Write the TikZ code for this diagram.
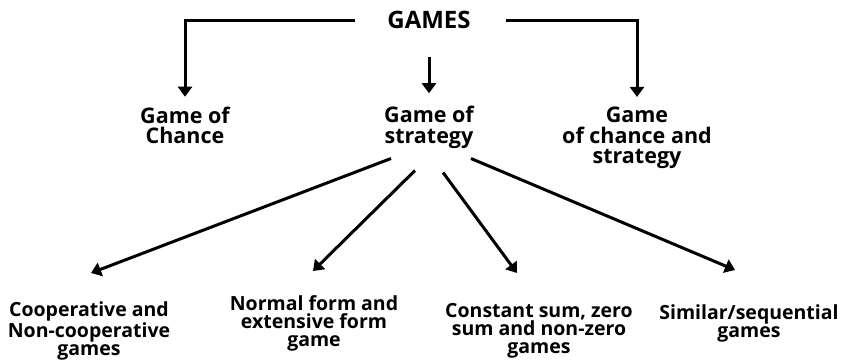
\documentclass[tikz,border=0pt]{standalone}
\usepackage{fontspec}
\setmainfont{Open Sans}
\usetikzlibrary{arrows.meta,calc}
\begin{document}
\begin{tikzpicture}[x=1pt,y=-1pt,
  lbl/.style={font=\bfseries\fontsize{21.5}{20.5}\selectfont, align=center, inner sep=0pt, text=black},
  lbls/.style={font=\bfseries\fontsize{19.5}{18}\selectfont, align=center, inner sep=0pt, text=black},
  arr/.style={line width=3pt, -{Triangle[width=14pt,length=10pt]}}]
\useasboundingbox (0,0) rectangle (846,360);
\node[font=\bfseries\fontsize{24}{26}\selectfont, inner sep=0pt] (games) at (429,20) {GAMES};
\node[lbl] (chance) at (185,125.5) {Game of\\Chance};
\node[lbl] (strat) at (429,127.5) {Game of\\strategy};
\node[lbl] (both) at (637,138) {Game\\of chance and\\strategy};
\node[lbls] (coop) at (89,331) {Cooperative and\\Non-cooperative\\games};
\node[lbls] (norm) at (314,323) {Normal form and\\extensive form\\game};
\node[lbls] (const) at (539,331) {Constant sum, zero\\sum and non-zero\\games};
\node[lbls] (sim) at (749,323) {Similar/sequential\\games};
\draw[arr] ([xshift=-32pt]games.west) -| ([yshift=10pt]chance.north);
\draw[arr] ([xshift=35pt]games.east) -| ([yshift=10pt]both.north);
\draw[arr] ([yshift=-28pt]games.south) -- ([yshift=13pt]strat.north);
\draw[arr] ($(strat.center)+(-38,31)$) -- ($(coop.center)+(2,-58)$);
\draw[arr] ($(strat.center)+(-14,43)$) -- ($(norm.center)+(-1,-52)$);
\draw[arr] ($(strat.center)+(14,45)$) -- ($(const.center)+(-22,-58)$);
\draw[arr] ($(strat.center)+(42,31)$) -- ($(sim.center)+(-14,-53)$);
\end{tikzpicture}
\end{document}
